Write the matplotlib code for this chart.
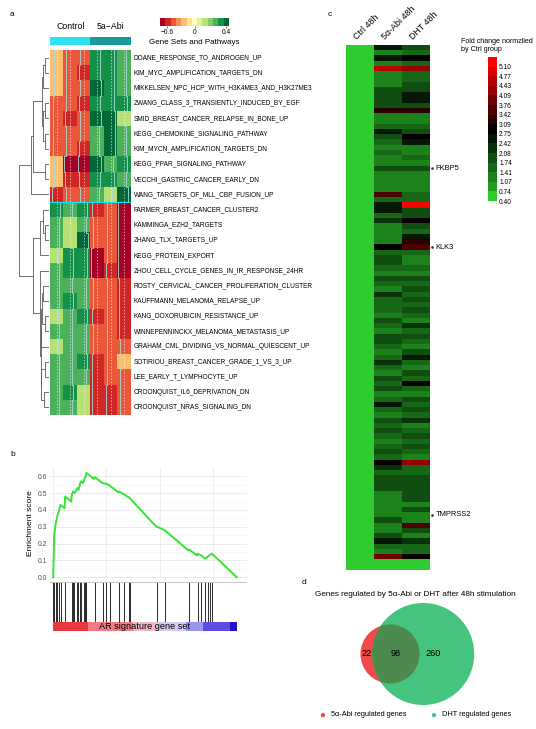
import numpy as np
import matplotlib
matplotlib.use('Agg')
import matplotlib.pyplot as plt
from matplotlib.colors import BoundaryNorm, ListedColormap, LinearSegmentedColormap
from matplotlib.patches import Circle

plt.rcParams['font.family'] = ['Liberation Sans', 'DejaVu Sans']

W, H = 536, 729


def box(x0, y0, x1, y1):
    # pixel rectangle -> figure fraction
    return [x0 / W, 1 - y1 / H, (x1 - x0) / W, (y1 - y0) / H]


# ---------------- panel a: GSVA scores ----------------
gene_sets = [
    'DOANE_RESPONSE_TO_ANDROGEN_UP', 'KIM_MYC_AMPLIFICATION_TARGETS_DN',
    'MIKKELSEN_NPC_HCP_WITH_H3K4ME3_AND_H3K27ME3', 'ZWANG_CLASS_3_TRANSIENTLY_INDUCED_BY_EGF',
    'SMID_BREAST_CANCER_RELAPSE_IN_BONE_UP', 'KEGG_CHEMOKINE_SIGNALING_PATHWAY',
    'KIM_MYCN_AMPLIFICATION_TARGETS_DN', 'KEGG_PPAR_SIGNALING_PATHWAY',
    'VECCHI_GASTRIC_CANCER_EARLY_DN', 'WANG_TARGETS_OF_MLL_CBP_FUSION_UP',
    'FARMER_BREAST_CANCER_CLUSTER2', 'KAMMINGA_EZH2_TARGETS', 'ZHANG_TLX_TARGETS_UP',
    'KEGG_PROTEIN_EXPORT', 'ZHOU_CELL_CYCLE_GENES_IN_IR_RESPONSE_24HR',
    'ROSTY_CERVICAL_CANCER_PROLIFERATION_CLUSTER', 'KAUFFMANN_MELANOMA_RELAPSE_UP',
    'KANG_DOXORUBICIN_RESISTANCE_UP', 'WINNEPENNINCKX_MELANOMA_METASTASIS_UP',
    'GRAHAM_CML_DIVIDING_VS_NORMAL_QUIESCENT_UP', 'SOTIRIOU_BREAST_CANCER_GRADE_1_VS_3_UP',
    'LEE_EARLY_T_LYMPHOCYTE_UP', 'CROONQUIST_IL6_DEPRIVATION_DN', 'CROONQUIST_NRAS_SIGNALING_DN',
]
groups = ['Control', '5a\u2212Abi']
group_sizes = [3, 3]
scores = np.array([
    [-0.3, -0.4, -0.4, 0.3, 0.3, 0.2],
    [-0.3, -0.4, -0.5, 0.3, 0.3, 0.2],
    [-0.3, -0.4, -0.4, 0.4, 0.3, 0.2],
    [-0.4, -0.4, -0.5, 0.3, 0.3, 0.3],
    [-0.4, -0.5, -0.4, 0.4, 0.4, 0.1],
    [-0.4, -0.4, -0.4, 0.2, 0.4, 0.2],
    [-0.4, -0.4, -0.5, 0.2, 0.4, 0.2],
    [-0.3, -0.6, -0.6, 0.4, 0.2, 0.3],
    [-0.3, -0.5, -0.5, 0.3, 0.3, 0.2],
    [-0.5, -0.4, -0.4, 0.2, 0.1, 0.4],
    [0.3, 0.2, 0.3, -0.5, -0.4, -0.6],
    [0.2, 0.1, 0.2, -0.4, -0.4, -0.6],
    [0.2, 0.1, 0.4, -0.4, -0.4, -0.6],
    [0.1, 0.3, 0.3, -0.6, -0.4, -0.6],
    [0.2, 0.3, 0.3, -0.6, -0.5, -0.6],
    [0.2, 0.2, 0.2, -0.4, -0.4, -0.5],
    [0.2, 0.3, 0.2, -0.4, -0.4, -0.5],
    [0.1, 0.2, 0.3, -0.5, -0.4, -0.5],
    [0.2, 0.2, 0.2, -0.4, -0.4, -0.5],
    [0.1, 0.2, 0.2, -0.4, -0.4, -0.4],
    [0.2, 0.2, 0.3, -0.5, -0.4, -0.3],
    [0.2, 0.2, 0.2, -0.5, -0.4, -0.4],
    [0.2, 0.3, 0.1, -0.5, -0.5, -0.4],
    [0.2, 0.2, 0.1, -0.5, -0.5, -0.4],
])
# row dendrogram: (left, right, height); leaves 0..23, new nodes numbered from 24
row_merges = [
    (0, 1, 0.15), (24, 2, 0.2), (3, 4, 0.15), (5, 6, 0.15), (26, 27, 0.2),
    (25, 28, 0.25), (7, 8, 0.15), (29, 30, 0.55), (31, 9, 0.6),
    (11, 12, 0.12), (10, 33, 0.2), (34, 13, 0.3), (15, 16, 0.2), (17, 18, 0.12),
    (36, 37, 0.25), (38, 19, 0.26), (20, 21, 0.15), (22, 23, 0.18), (40, 41, 0.26),
    (39, 42, 0.28), (14, 43, 0.3), (35, 44, 0.55), (32, 45, 1.0),
]

# ---------------- panel b: GSEA running score ----------------
es_rank = [0, 94, 219, 375, 563, 688, 1063, 1125, 1688, 1750, 1875, 2000, 2281, 2375,
           2500, 2594, 2813, 2906, 3063, 3125, 3813, 3906, 4625, 4688, 4938, 5000,
           5313, 5375, 6125, 6188, 6563, 6625, 7063, 7188, 9688, 9750, 10469, 12688,
           12750, 13500, 13563, 13906, 14281, 14563, 14750, 14906, 17250]
es_value = [0.0, 0.25, 0.31, 0.36, 0.40, 0.43, 0.41, 0.48, 0.45, 0.49, 0.51, 0.50, 0.53,
            0.52, 0.55, 0.57, 0.56, 0.58, 0.60, 0.62, 0.585, 0.595, 0.56, 0.56, 0.555,
            0.555, 0.545, 0.54, 0.505, 0.51, 0.495, 0.495, 0.475, 0.47, 0.30, 0.30, 0.28,
            0.16, 0.165, 0.13, 0.14, 0.13, 0.11, 0.125, 0.135, 0.14, 0.0]
hit_rank = [0, 94, 219, 375, 563, 688, 1125, 1750, 1875, 1938, 2281, 2375, 2500, 2594,
            2906, 3000, 3063, 3125, 3906, 4688, 5000, 5375, 6188, 6625, 7125, 7188,
            9750, 10469, 12750, 13563, 13906, 14281, 14563, 14750, 14906]
n_ranked = 17250
metric_edges = [0, 3281, 7500, 9688, 12500, 14063, 16563, 17250]
metric_colors = ['#e8383d', '#f27b83', '#f2b6c9', '#d6c8f2', '#9c95ee', '#5a4fe0', '#2412c8']

# ---------------- panel c: fold change heatmap ----------------
abi_48h = [2.6, 1.2, 2.6, 1.2, 4.6, 1.2, 1.2, 1.2, 1.8, 1.8,
           1.8, 1.8, 3.3, 1.15, 1.15, 1.6, 2.5, 1.9, 1.6, 1.3,
           1.6, 1.15, 1.15, 1.9, 1.4, 1.4, 1.4, 1.4, 3.5, 1.6,
           2.7, 2.5, 1.6, 2.3, 1.3, 1.3, 1.3, 1.3, 3.0, 1.6,
           1.9, 1.9, 1.6, 1.3, 1.9, 1.6, 1.3, 2.3, 1.6, 1.6,
           1.6, 1.3, 1.9, 1.6, 1.3, 1.9, 1.9, 1.6, 1.3, 1.6,
           2.3, 1.6, 1.3, 1.9, 1.6, 1.9, 1.3, 1.6, 2.5, 1.6,
           1.3, 1.9, 1.6, 1.9, 1.6, 1.3, 1.6, 1.9, 1.6, 3.0,
           2.3, 1.6, 1.9, 1.9, 1.9, 1.3, 1.3, 1.3, 1.3, 1.3,
           1.9, 1.3, 1.3, 1.9, 2.5, 1.6, 1.3, 3.9, 0.5, 0.5]
dht_48h = [1.9, 1.5, 2.85, 1.6, 4.3, 1.6, 1.6, 1.9, 1.8, 2.5,
           2.6, 1.8, 3.3, 1.3, 1.3, 1.6, 1.8, 2.8, 2.5, 1.3,
           1.15, 1.5, 1.15, 1.9, 1.15, 1.15, 1.4, 1.4, 1.6, 1.6,
           5.1, 1.9, 1.9, 2.9, 1.9, 1.6, 2.5, 3.2, 3.5, 1.6,
           1.3, 1.3, 1.6, 1.3, 1.9, 1.6, 1.9, 1.6, 1.9, 1.6,
           1.9, 1.6, 1.3, 2.3, 1.6, 1.9, 1.6, 1.3, 1.9, 2.5,
           1.6, 1.3, 1.9, 1.6, 2.8, 1.6, 1.3, 1.9, 1.6, 1.9,
           1.6, 2.3, 1.3, 1.6, 1.9, 1.6, 1.9, 1.6, 1.3, 4.3,
           1.6, 1.6, 1.9, 1.9, 1.9, 1.9, 1.9, 1.3, 1.9, 1.3,
           1.3, 3.5, 1.9, 1.3, 2.3, 1.6, 1.6, 3.0, 0.5, 0.5]
ctrl_48h = [0.5] * len(abi_48h)
fc_columns = ['Ctrl 48h', '5\u03b1-Abi 48h', 'DHT 48h']
fc_ticks = [0.40, 0.74, 1.07, 1.41, 1.74, 2.08, 2.42, 2.75, 3.09, 3.42, 3.76, 4.09, 4.43, 4.77, 5.10]
marked_genes = ['FKBP5', 'KLK3', 'TMPRSS2']
marked_rows = [23, 38, 89]

# ---------------- panel d: Venn ----------------
abi_only, both, dht_only = 22, 98, 260
venn_labels = ['5\u03b1-Abi regulated genes', 'DHT regulated genes']
venn_colors = ['#f24a4a', '#45c47f']
lens_color = '#4d8a4d'

fig = plt.figure(figsize=(W / 100, H / 100), dpi=100)
fig.patch.set_facecolor('white')

# panel letters
for lab, (px, py) in zip('abcd', [(10, 14), (10, 455), (328, 14), (302, 583)]):
    fig.text(px / W, 1 - py / H, lab, fontsize=6, ha='left', va='center')

# ---- a: heatmap ----
cmap_a = plt.get_cmap('RdYlGn', 13)
norm_a = BoundaryNorm(np.linspace(-0.65, 0.45, 14), 13)
n_rows, n_cols = scores.shape
ax = fig.add_axes(box(50, 50, 131, 415))
ax.imshow(scores, cmap=cmap_a, norm=norm_a, aspect='auto', interpolation='nearest',
          extent=(0, n_cols, n_rows, 0))
rows = np.arange(n_rows)
for j in range(n_cols):
    ax.plot([j + 0.5, j + 0.5], [0, n_rows], color='white', lw=0.5, ls=(0, (2, 2.5)), alpha=0.85)
    xs = j + 0.5 + scores[:, j] * 0.75
    ax.plot(np.repeat(xs, 2), np.column_stack([rows, rows + 1]).ravel(),
            color='#a8dcd6', lw=0.6)
ax.axhline(10, color='#00e8f0', lw=0.8)
ax.set_xlim(0, n_cols)
ax.set_ylim(n_rows, 0)
ax.axis('off')
for i, name in enumerate(gene_sets):
    ax.text(n_cols + 0.2, i + 0.5, name, fontsize=4.7, va='center', ha='left', clip_on=False)

# dendrogram
axd = fig.add_axes(box(19, 50, 49, 415))
pos = {i: i + 0.5 for i in range(n_rows)}
hgt = {i: 0.0 for i in range(n_rows)}
for k, (a, b, h) in enumerate(row_merges):
    node = n_rows + k
    axd.plot([hgt[a], h, h, hgt[b]], [pos[a], pos[a], pos[b], pos[b]], color='#5a5a5a', lw=0.6)
    pos[node] = (pos[a] + pos[b]) / 2
    hgt[node] = h
axd.set_xlim(1.01, 0)
axd.set_ylim(n_rows, 0)
axd.axis('off')

# column side colours
axg = fig.add_axes(box(50, 37, 131, 45))
grp_idx = np.repeat(np.arange(len(groups)), group_sizes)
axg.imshow(grp_idx[None, :], cmap=ListedColormap(['#2fe2f2', '#1a9a9a']), aspect='auto',
           extent=(0, n_cols, 0, 1))
axg.axis('off')
start = 0
for g, n in zip(groups, group_sizes):
    axg.text(start + n / 2, 1.7, g, ha='center', va='bottom', fontsize=6.3)
    start += n

# colour key
axk = fig.add_axes(box(160, 18, 229, 26))
axk.imshow(np.arange(13)[None, :], cmap=cmap_a, aspect='auto', extent=(0, 1, 0, 1))
axk.set_yticks([])
axk.set_xticks([0.10, 0.507, 0.957])
axk.set_xticklabels(['\u22120.6', '0', '0.4'], fontsize=4.8)
axk.tick_params(axis='x', length=1.5, width=0.4, pad=1)
for s in axk.spines.values():
    s.set_visible(False)
axk.set_xlabel('Gene Sets and Pathways', fontsize=5.8, labelpad=1.5)

# ---- b: GSEA ----
xlim_b = (-300, 18200)
axe = fig.add_axes(box(50, 467, 247, 580))
axe.plot(es_rank, es_value, color='#33e633', lw=1.4)
axe.set_xlim(*xlim_b)
axe.set_ylim(-0.016, 0.655)
axe.set_xticks([0, 5000, 10000, 15000])
axe.set_xticklabels([])
axe.set_yticks(np.arange(0, 0.61, 0.1))
axe.set_yticklabels(['%.1f' % v for v in np.arange(0, 0.61, 0.1)], fontsize=4.9, color='#4d4d4d')
axe.set_yticks(np.arange(0.05, 0.65, 0.1), minor=True)
axe.grid(True, which='major', color='#e6e6e6', lw=0.5)
axe.grid(True, which='minor', axis='y', color='#f2f2f2', lw=0.4)
axe.tick_params(length=0, pad=2)
axe.tick_params(which='minor', length=0)
for s in axe.spines.values():
    s.set_visible(False)
axe.set_ylabel('Enrichment score', fontsize=6, labelpad=3)

axh = fig.add_axes(box(50, 582, 247, 622))
axh.vlines(hit_rank, 0, 1, color='#2a2a2a', lw=0.7)
axh.set_xlim(*xlim_b)
axh.set_ylim(0, 1)
axh.set_xticks([])
axh.set_yticks([])
for s in axh.spines.values():
    s.set_visible(False)
axh.axhline(1, color='#bdbdbd', lw=0.6)

axr = fig.add_axes(box(50, 622, 247, 631))
for x0, x1, c in zip(metric_edges[:-1], metric_edges[1:], metric_colors):
    axr.axvspan(x0, x1, color=c, lw=0)
axr.set_xlim(*xlim_b)
axr.set_ylim(0, 1)
axr.axis('off')
axr.text(n_ranked / 2, 0.45, 'AR signature gene set', ha='center', va='center', fontsize=6.6)

# ---- c: fold change heatmap ----
fc = np.column_stack([ctrl_48h, abi_48h, dht_48h])
step = fc_ticks[1] - fc_ticks[0]
fc_edges = np.append(fc_ticks, fc_ticks[-1] + step)
base = LinearSegmentedColormap.from_list(
    'gkr', [(0.0, (0.2, 0.85, 0.2)), (0.1, (0.13, 0.6, 0.13)), (0.5, (0, 0, 0)), (1.0, (1, 0, 0))])
cmap_c = ListedColormap(base(np.linspace(0.02, 1.0, len(fc_edges) - 1)))
norm_c = BoundaryNorm(fc_edges, cmap_c.N)
axc = fig.add_axes(box(346, 45, 430, 570))
n_fc = fc.shape[0]
axc.imshow(fc, cmap=cmap_c, norm=norm_c, aspect='auto', interpolation='nearest',
           extent=(0, 3, n_fc, 0))
axc.set_xlim(0, 3)
axc.set_ylim(n_fc, 0)
axc.axis('off')
for j, lab in enumerate(fc_columns):
    axc.text(j + 0.45, -0.6, lab, rotation=45, rotation_mode='anchor', ha='left', va='bottom',
             fontsize=6.4, clip_on=False)
for g, r in zip(marked_genes, marked_rows):
    axc.plot(3.08, r + 0.5, 'o', ms=0.9, color='#333333', clip_on=False)
    axc.text(3.2, r + 0.5, g, fontsize=5.4, va='center', ha='left', clip_on=False)

axcb = fig.add_axes(box(488, 57, 497, 201))
axcb.imshow(np.arange(cmap_c.N)[::-1, None], cmap=cmap_c, aspect='auto',
            extent=(0, 1, fc_edges[0], fc_edges[-1]))
axcb.set_xticks([])
axcb.yaxis.tick_right()
axcb.set_yticks(fc_ticks)
axcb.set_yticklabels(['%.2f' % v for v in fc_ticks], fontsize=4.8)
axcb.tick_params(length=0, pad=1.5)
for s in axcb.spines.values():
    s.set_visible(False)
fig.text(461 / W, 1 - 38 / H, 'Fold change normzlied\nby Ctrl group', fontsize=5.1,
         ha='left', va='top', linespacing=1.25)

# ---- d: Venn ----
n_abi = abi_only + both
n_dht = dht_only + both
r1 = np.sqrt(n_abi / np.pi)
r2 = np.sqrt(n_dht / np.pi)


def lens_area(d):
    a1 = r1 ** 2 * np.arccos((d ** 2 + r1 ** 2 - r2 ** 2) / (2 * d * r1))
    a2 = r2 ** 2 * np.arccos((d ** 2 + r2 ** 2 - r1 ** 2) / (2 * d * r2))
    a3 = 0.5 * np.sqrt((-d + r1 + r2) * (d + r1 - r2) * (d - r1 + r2) * (d + r1 + r2))
    return a1 + a2 - a3


lo, hi = r2 - r1 + 1e-6, r1 + r2 - 1e-6
for _ in range(60):
    mid = (lo + hi) / 2
    if lens_area(mid) > both:
        lo = mid
    else:
        hi = mid
dist = (lo + hi) / 2

axv = fig.add_axes(box(330, 600, 490, 708))
red = Circle((0, 0), r1, color=venn_colors[0], lw=0)
green = Circle((dist, 0), r2, color=venn_colors[1], lw=0)
axv.add_patch(red)
axv.add_patch(green)
lens = Circle((0, 0), r1, color=lens_color, lw=0)
axv.add_patch(lens)
lens.set_clip_path(green)
axv.set_xlim(-12.55, 20.92)
axv.set_ylim(-11.3, 11.3)
axv.axis('off')
lens_mid = (dist - r2 + r1) / 2
axv.text((-r1 + dist - r2) / 2, 0, str(abi_only), ha='center', va='center', fontsize=6.6)
axv.text(lens_mid, 0, str(both), ha='center', va='center', fontsize=6.6)
axv.text((n_dht * dist - both * lens_mid) / dht_only, 0, str(dht_only), ha='center', va='center',
         fontsize=6.6)

fig.text(415 / W, 1 - 594 / H, 'Genes regulated by 5\u03b1-Abi or DHT after 48h stimulation',
         ha='center', va='center', fontsize=5.9)
for (px, lab, col) in zip([322, 433], venn_labels, venn_colors):
    fig.text(px / W, 1 - 715 / H, '\u25cf', color=col, fontsize=7, ha='center', va='center')
    fig.text((px + 9) / W, 1 - 715 / H, lab, fontsize=5.3, ha='left', va='center')

fig.savefig('out.png', dpi=100)
